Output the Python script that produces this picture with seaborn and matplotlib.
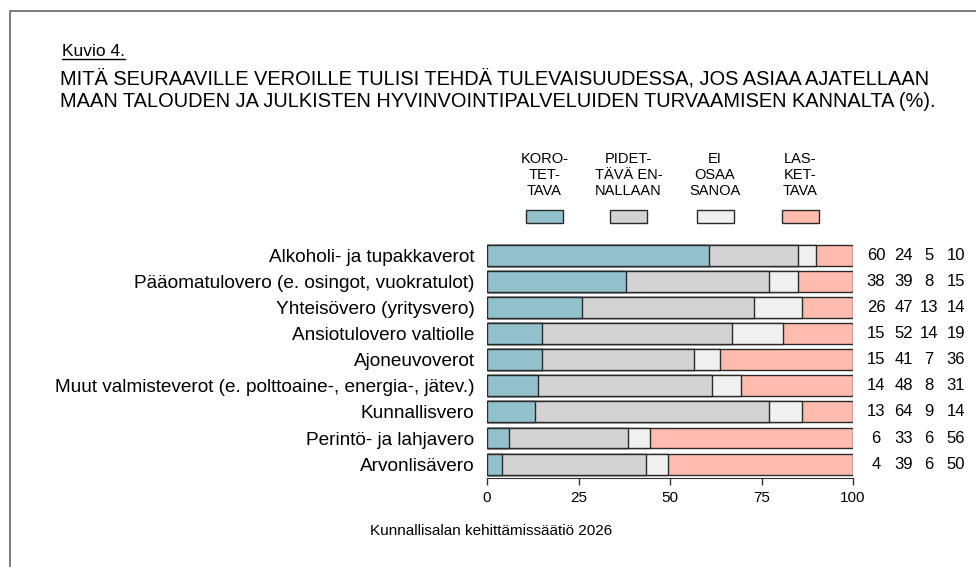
import numpy as np
import pandas as pd
import matplotlib
matplotlib.use("Agg")
import matplotlib.pyplot as plt
import seaborn as sns
from matplotlib.patches import Rectangle
from matplotlib.lines import Line2D

# Data
taxes = [
    "Alkoholi- ja tupakkaverot",
    "Pääomatulovero (e. osingot, vuokratulot)",
    "Yhteisövero (yritysvero)",
    "Ansiotulovero valtiolle",
    "Ajoneuvoverot",
    "Muut valmisteverot (e. polttoaine-, energia-, jätev.)",
    "Kunnallisvero",
    "Perintö- ja lahjavero",
    "Arvonlisävero",
]
korotettava = [60, 38, 26, 15, 15, 14, 13, 6, 4]
pidettava = [24, 39, 47, 52, 41, 48, 64, 33, 39]
ei_osaa = [5, 8, 13, 14, 7, 8, 9, 6, 6]
laskettava = [10, 15, 14, 19, 36, 31, 14, 56, 50]

legend_labels = ["KORO-\nTET-\nTAVA", "PIDET-\nTÄVÄ EN-\nNALLAAN", "EI\nOSAA\nSANOA", "LAS-\nKET-\nTAVA"]
colors = ["#92c1cc", "#d3d3d3", "#f0f0f0", "#ffbbad"]
ticks = [0, 25, 50, 75, 100]

sns.set_style("white")
plt.rcParams["font.family"] = ["Liberation Sans", "DejaVu Sans"]
plt.rcParams["text.color"] = "black"
plt.rcParams["xtick.color"] = "black"
plt.rcParams["ytick.color"] = "black"
plt.rcParams["axes.labelcolor"] = "black"

df = pd.DataFrame({"vero": taxes, "k": korotettava, "p": pidettava,
                   "e": ei_osaa, "l": laskettava})
tot = df[["k", "p", "e", "l"]].sum(axis=1)
# cumulative share, scaled to 100 per row
cum = df[["k", "p", "e", "l"]].cumsum(axis=1).div(tot, axis=0) * 100

fig = plt.figure(figsize=(9.76, 5.67), dpi=100)
ax = fig.add_axes([487 / 976, 1 - 478 / 567, 366 / 976, 236 / 567])

# draw widest first so each segment overlays the previous
for col, c in zip(["l", "e", "p", "k"], colors[::-1]):
    sns.barplot(x=cum[col], y=df["vero"], orient="h", color=c, width=0.8,
                edgecolor="#2a2a2a", linewidth=1, ax=ax, saturation=1)

ax.set_xlim(0, 100)
ax.set_ylim(8.53, -0.5)
ax.set_xlabel("")
ax.set_ylabel("")
for s in ["top", "right", "left"]:
    ax.spines[s].set_visible(False)
ax.spines["bottom"].set_color("#333333")
ax.spines["bottom"].set_bounds(0, 100)
ax.set_xticks(ticks)
ax.tick_params(axis="x", length=5, width=1, color="#333333", labelsize=11, pad=4, bottom=True)
ax.tick_params(axis="y", length=0, labelsize=13.7, pad=9)

# value columns on the right
col_x = [106.3, 113.8, 120.8, 128.1]
for i in range(len(taxes)):
    for x, v in zip(col_x, [korotettava[i], pidettava[i], ei_osaa[i], laskettava[i]]):
        ax.text(x, i, str(v), ha="center", va="center", fontsize=12, clip_on=False)

# legend
leg_x = [544.5, 628.5, 715, 800]
for x, lab, c in zip(leg_x, legend_labels, colors):
    fig.text(x / 976, 1 - 175 / 567, lab, ha="center", va="center", fontsize=10.5,
             linespacing=1.2)
    fig.patches.append(Rectangle(((x - 18.5) / 976, 1 - 223 / 567), 37 / 976, 13 / 567,
                                 transform=fig.transFigure, facecolor=c,
                                 edgecolor="#2a2a2a", linewidth=1))

# titles
kt = fig.text(62 / 976, 1 - 51 / 567, "Kuvio 4.", ha="left", va="center", fontsize=12.5)
fig.text(60 / 976, 1 - 90 / 567,
         "MITÄ SEURAAVILLE VEROILLE TULISI TEHDÄ TULEVAISUUDESSA, JOS ASIAA AJATELLAAN\n"
         "MAAN TALOUDEN JA JULKISTEN HYVINVOINTIPALVELUIDEN TURVAAMISEN KANNALTA (%).",
         ha="left", va="center", fontsize=14.4, linespacing=1.25)
fig.text(370 / 976, 1 - 531 / 567, "Kunnallisalan kehittämissäätiö 2026",
         ha="left", va="center", fontsize=11)

# underline under "Kuvio 4."
fig.canvas.draw()
bb = kt.get_window_extent().transformed(fig.transFigure.inverted())
fig.lines.append(Line2D([bb.x0, bb.x1], [1 - 59 / 567] * 2, transform=fig.transFigure,
                        color="black", linewidth=1))

# frame
fig.patches.append(Rectangle((9.5 / 976, -0.2), 1.5, 1 - 11 / 567 + 0.2,
                             transform=fig.transFigure, fill=False,
                             edgecolor="#666666", linewidth=1.2))

fig.savefig("out.png", dpi=100)
